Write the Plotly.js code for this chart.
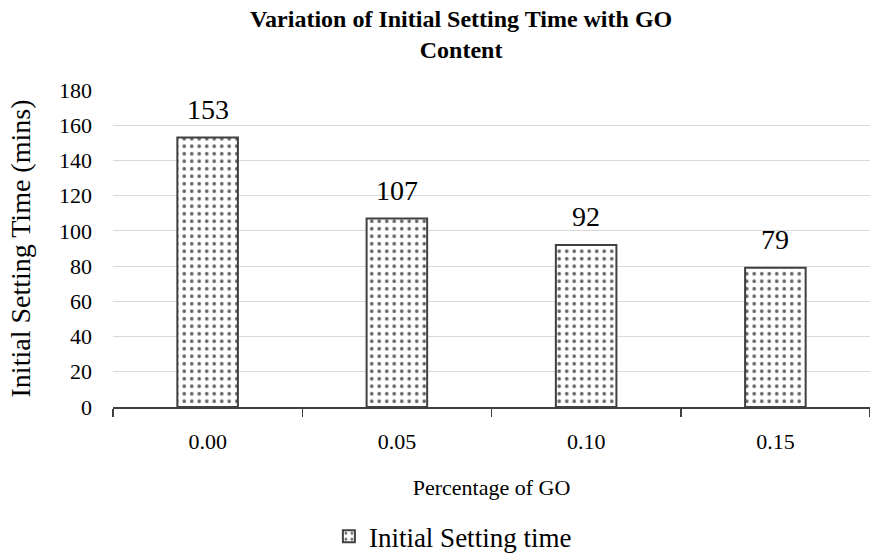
<!DOCTYPE html>
<html>
<head>
<meta charset="utf-8">
<script src="https://cdn.plot.ly/plotly-3.0.1.min.js"></script>
<style>
  html, body { margin: 0; padding: 0; background: #fff; }
  #chart { width: 870px; height: 557px; }
</style>
</head>
<body>
<div id="chart"></div>
<script>
// GO content (%) and the measured initial setting time (minutes)
const goContent = ['0.00', '0.05', '0.10', '0.15'];
const settingTime = [153, 107, 92, 79];
const seriesName = 'Initial Setting time';
const yTicks = [0, 20, 40, 60, 80, 100, 120, 140, 160, 180];

const serif = '"Liberation Serif", "Times New Roman", serif';

const trace = {
  type: 'bar',
  x: goContent,
  y: settingTime,
  name: seriesName,
  showlegend: true,
  marker: {
    color: '#ffffff',
    line: { color: '#404040', width: 2 },
    pattern: { shape: '.', fgcolor: '#606060', bgcolor: '#ffffff', size: 7.5, solidity: 0.18 }
  },
  hoverinfo: 'x+y'
};

// value labels above each bar (positioned by category index)
const labels = goContent.map((c, i) => ({
  x: i, y: settingTime[i], xref: 'x', yref: 'y',
  text: String(settingTime[i]), showarrow: false,
  yanchor: 'bottom', yshift: 11,
  font: { family: serif, size: 28, color: '#000' }
}));

const layout = {
  width: 870, height: 557,
  paper_bgcolor: '#fff', plot_bgcolor: '#fff',
  margin: { l: 113, r: 0, t: 90, b: 150, autoexpand: false },
  bargap: 0.68,
  title: {
    text: '<b>Variation of Initial Setting Time with GO</b><br><b>Content</b>',
    x: 0.53, xanchor: 'center', y: 0.952, yanchor: 'top',
    font: { family: serif, size: 24, color: '#000' }
  },
  xaxis: {
    type: 'category',
    range: [-0.5, 3.5],
    showline: true, linecolor: '#404040', linewidth: 1.5,
    ticks: 'outside', tickson: 'boundaries', ticklen: 8, tickcolor: '#404040', tickwidth: 1.5,
    showgrid: false,
    ticklabelstandoff: 14,
    tickfont: { family: serif, size: 22, color: '#000' },
    title: { text: 'Percentage of GO', font: { family: serif, size: 22, color: '#000' }, standoff: 26 },
    automargin: false,
    fixedrange: true
  },
  yaxis: {
    range: [0, 180],
    tickvals: yTicks,
    showline: false, zeroline: false,
    showgrid: true, gridcolor: '#d9d9d9', gridwidth: 1,
    ticks: '', ticklabelstandoff: 20,
    tickfont: { family: serif, size: 22, color: '#000' },
    title: { text: 'Initial Setting Time (mins)', font: { family: serif, size: 28, color: '#000' }, standoff: 20 },
    automargin: false,
    fixedrange: true
  },
  legend: {
    orientation: 'h', x: 0.449, xanchor: 'center', y: -0.332, yanchor: 'top',
    font: { family: serif, size: 27, color: '#000' },
    itemwidth: 30
  },
  annotations: labels
};

Plotly.newPlot('chart', [trace], layout, { displayModeBar: false, staticPlot: true });
</script>
</body>
</html>
